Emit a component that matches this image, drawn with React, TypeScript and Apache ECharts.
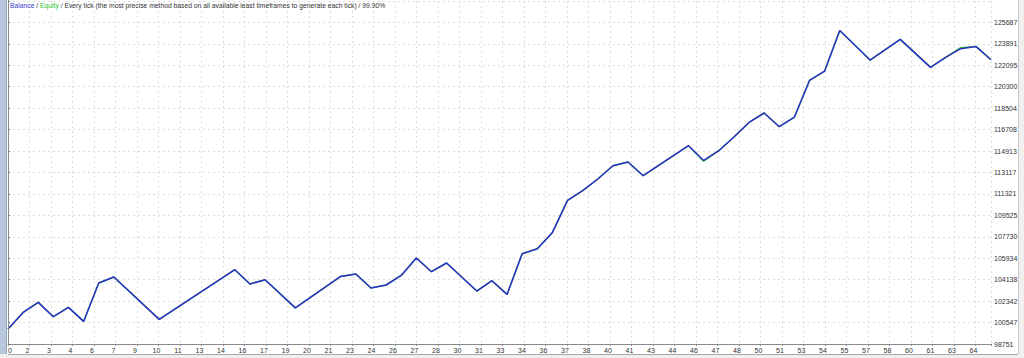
import React, { useEffect, useRef } from 'react';
import * as echarts from 'echarts';

// Axis reference values
const BASE = 98751;
const STEP = 1795.725;
const LAST_TRADE = 65;

// Trade numbers at which the balance line changes direction
const trades = [0, 1, 2, 3, 4, 5, 6, 7, 10, 15, 16, 17, 19, 22, 23, 24, 25, 26, 27, 28, 29, 31, 32, 33, 34, 35, 36, 37, 38, 39, 40, 41, 42, 45, 46, 47, 48, 49, 50, 51, 52, 53, 54, 55, 57, 59, 61, 62, 63, 64, 65];

const balance = [100007, 101398, 102235, 101038, 101817, 100644, 103860, 104363, 100811, 104974, 103777, 104137, 101775, 104413, 104614, 103442, 103693, 104497, 105954, 104807, 105536, 103190, 104053, 102905, 106315, 106733, 108099, 110779, 111592, 112571, 113685, 113995, 112848, 115361, 114129, 114942, 116089, 117312, 118100, 116952, 117765, 120830, 121617, 125018, 122539, 124264, 121919, 122757, 123485, 123678, 122564];

const equity = [100007, 101398, 102235, 101038, 101817, 100644, 103860, 104363, 100811, 104974, 103777, 104137, 101775, 104413, 104614, 103442, 103693, 104497, 105954, 104807, 105536, 103190, 104053, 102905, 106315, 106733, 108099, 110779, 111592, 112571, 113685, 113995, 112848, 115361, 114060, 114942, 116089, 117312, 118100, 116952, 117765, 120830, 121617, 125018, 122539, 124264, 121919, 122757, 123570, 123678, 122564];

// Labels shown under the vertical grid lines
const xTickLabels = ['0', '2', '3', '4', '6', '7', '9', '10', '11', '13', '14', '16', '17', '19', '20', '21', '23', '24', '26', '27', '28', '30', '31', '33', '34', '36', '37', '38', '40', '41', '43', '44', '46', '47', '48', '50', '51', '53', '54', '55', '57', '58', '60', '61', '63', '64'];

const GRID_COLUMNS = 983 / 21.5;
const FONT = 'Liberation Sans';

export default function App() {
  const ref = useRef<HTMLDivElement>(null);

  useEffect(() => {
    const chart = echarts.init(ref.current!, null, { renderer: 'svg' });
    const splitLine = { show: true, lineStyle: { color: '#dedede', type: [2, 3] as any, width: 1 } };
    chart.setOption({
      animation: false,
      backgroundColor: '#ffffff',
      grid: { left: 8, right: 33, top: 1, bottom: 14 },
      xAxis: [
        {
          type: 'value',
          min: 0,
          max: GRID_COLUMNS,
          interval: 1,
          position: 'bottom',
          axisLine: { show: true, lineStyle: { color: '#8a8a8a', width: 1 } },
          axisTick: { show: true, length: 2, lineStyle: { color: '#8a8a8a' } },
          splitLine,
          axisLabel: {
            show: true,
            fontFamily: FONT,
            fontSize: 7,
            color: '#333',
            margin: 3,
            padding: [0, 4, 0, 0],
            alignMinLabel: 'left',
            formatter: (v: number) => {
              const r = Math.round(v);
              if (Math.abs(v - r) > 1e-6) return '';
              return xTickLabels[r] ?? '';
            },
          },
        },
        {
          type: 'value',
          min: 0,
          max: LAST_TRADE,
          show: false,
          splitLine: { show: false },
        },
      ],
      yAxis: {
        type: 'value',
        position: 'right',
        min: 0,
        max: STEP * 16,
        interval: STEP,
        axisLine: { show: true, lineStyle: { color: '#6a6a6a', width: 1 } },
        axisTick: { show: true, length: 2, lineStyle: { color: '#6a6a6a' } },
        splitLine,
        axisLabel: {
          fontFamily: FONT,
          fontSize: 7,
          color: '#333',
          margin: 3,
          formatter: (v: number) => {
            const s = Math.round(v / STEP);
            if (s > 15) return '';
            return String(Math.round(BASE + v));
          },
        },
      },
      series: [
        {
          name: 'Equity',
          type: 'line',
          xAxisIndex: 1,
          data: trades.map((t, i) => [t, equity[i] - BASE]),
          symbol: 'none',
          lineStyle: { color: '#2fbf2f', width: 1.5 },
          z: 2,
        },
        {
          name: 'Balance',
          type: 'line',
          xAxisIndex: 1,
          data: trades.map((t, i) => [t, balance[i] - BASE]),
          symbol: 'none',
          lineStyle: { color: '#3030cc', width: 1.5 },
          z: 3,
        },
      ],
      graphic: [
        { type: 'rect', left: 0, top: 0, shape: { width: 6, height: 358 }, style: { fill: '#b7c7dc' }, z: 10 },
        { type: 'line', shape: { x1: 6.5, y1: 0, x2: 6.5, y2: 358 }, style: { stroke: '#8ea3bf', lineWidth: 1 }, z: 10 },
        { type: 'line', shape: { x1: 8.5, y1: 0, x2: 8.5, y2: 344 }, style: { stroke: '#8a8a8a', lineWidth: 1 }, z: 10 },
        { type: 'rect', shape: { x: 1018, y: 0, width: 6, height: 358 }, style: { fill: '#f0f0f0' }, z: 10 },
        { type: 'line', shape: { x1: 1018.5, y1: 0, x2: 1018.5, y2: 358 }, style: { stroke: '#c8c8c8', lineWidth: 1 }, z: 10 },
        { type: 'rect', shape: { x: 0, y: 354, width: 1024, height: 4 }, style: { fill: '#f0f0f0' }, z: 10 },
        { type: 'line', shape: { x1: 8, y1: 354.5, x2: 1018, y2: 354.5 }, style: { stroke: '#a8a8a8', lineWidth: 1 }, z: 10 },
        {
          type: 'text',
          x: 10,
          y: 2,
          z: 10,
          style: {
            text: '{b|Balance} / {e|Equity} / Every tick (the most precise method based on all available least timeframes to generate each tick) / 99.90%',
            fontFamily: FONT,
            fontSize: 6.75,
            fill: '#333',
            rich: {
              b: { fill: '#3a3ad0', fontFamily: FONT, fontSize: 6.75 },
              e: { fill: '#2fbf2f', fontFamily: FONT, fontSize: 6.75 },
            },
          },
        },
      ],
    });
    return () => chart.dispose();
  }, []);

  return (
    <div
      ref={ref}
      style={{ position: 'fixed', left: 0, top: 0, width: 1024, height: 358, background: '#fff' }}
    />
  );
}
